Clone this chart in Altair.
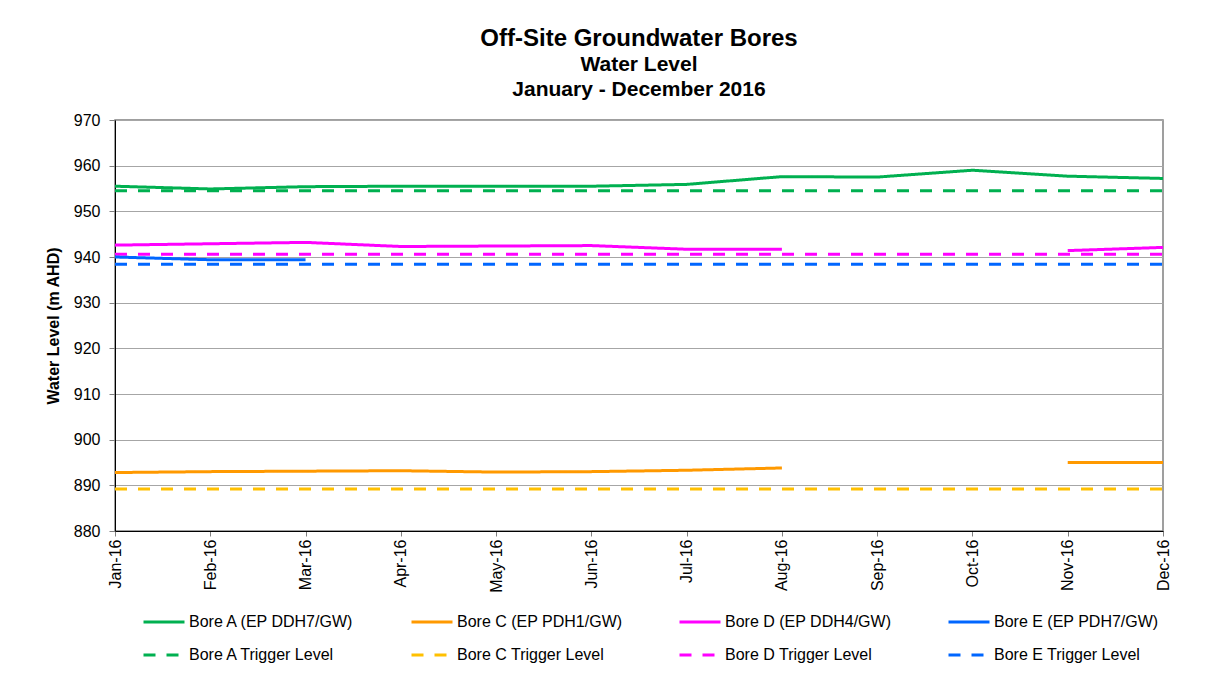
import altair as alt
import pandas as pd

months = ["Jan-16", "Feb-16", "Mar-16", "Apr-16", "May-16", "Jun-16",
          "Jul-16", "Aug-16", "Sep-16", "Oct-16", "Nov-16", "Dec-16"]

bore_a = [955.5, 954.9, 955.4, 955.5, 955.5, 955.5, 955.9, 957.6, 957.5, 959.0, 957.7, 957.2]
bore_c = [892.8, 893.0, 893.1, 893.2, 892.9, 893.0, 893.3, 893.8, None, None, 895.0, 895.0]
bore_d = [942.6, 942.9, 943.2, 942.3, 942.4, 942.5, 941.7, 941.7, None, None, 941.4, 942.1]
bore_e = [940.0, 939.4, 939.4, None, None, None, None, None, None, None, None, None]

trigger_a = [954.5] * 12
trigger_c = [889.2] * 12
trigger_d = [940.6] * 12
trigger_e = [938.4] * 12

# legend fills column by column (2 rows): bore, then its trigger level
series_names = [
    "Bore A (EP DDH7/GW)", "Bore A Trigger Level",
    "Bore C (EP PDH1/GW)", "Bore C Trigger Level",
    "Bore D (EP DDH4/GW)", "Bore D Trigger Level",
    "Bore E (EP PDH7/GW)", "Bore E Trigger Level",
]
series_values = [bore_a, trigger_a, bore_c, trigger_c, bore_d, trigger_d, bore_e, trigger_e]
series_colors = ["#00B050", "#00B050", "#FF9900", "#FFC000",
                 "#FF00FF", "#FF00FF", "#0066FF", "#0066FF"]
series_dash = [[1, 0], [12, 11]] * 4

y_ticks = [880, 890, 900, 910, 920, 930, 940, 950, 960, 970]

rows = []
for name, vals in zip(series_names, series_values):
    for m, v in zip(months, vals):
        rows.append({"month": m, "value": v, "series": name})
df = pd.DataFrame(rows)

FONT = "Liberation Sans"

chart = alt.Chart(df).mark_line(
    strokeWidth=3, invalid="break-paths-show-domains"
).encode(
    x=alt.X("month:O", sort=months,
            scale=alt.Scale(type="point", padding=0),
            axis=alt.Axis(title=None, labelAngle=270, labelAlign="right",
                          labelBaseline="middle", labelFontSize=16, labelPadding=3,
                          tickSize=5, tickColor="#808080", domainColor="#000000",
                          grid=False, labelColor="#000000")),
    y=alt.Y("value:Q",
            scale=alt.Scale(domain=[880, 970], nice=False, zero=False),
            axis=alt.Axis(values=y_ticks, title="Water Level (m AHD)",
                          titleFontSize=16, titleFontWeight="bold", titleColor="#000000",
                          titlePadding=12, labelFontSize=16, labelPadding=9,
                          tickSize=6, tickColor="#808080", domainColor="#000000",
                          gridColor="#A6A6A6", labelColor="#000000")),
    color=alt.Color("series:N",
                    scale=alt.Scale(domain=series_names, range=series_colors),
                    sort=series_names, legend=alt.Legend(title=None)),
    strokeDash=alt.StrokeDash("series:N",
                              scale=alt.Scale(domain=series_names, range=series_dash),
                              sort=series_names, legend=alt.Legend(title=None)),
).properties(
    width=1048,
    height=411,
    autosize=alt.AutoSizeParams(type="none"),
    padding={"left": 107, "top": 112, "right": 34, "bottom": 134},
    title=alt.Title(
        "Off-Site Groundwater Bores",
        subtitle=["Water Level", "January - December 2016"],
        fontSize=24, fontWeight="bold", color="#000000",
        subtitleFontSize=21, subtitleFontWeight="bold", subtitleColor="#000000",
        subtitleLineHeight=25, subtitlePadding=3,
        anchor="middle", frame="group", offset=12, font=FONT, subtitleFont=FONT,
    ),
).configure(
    font=FONT,
).configure_view(
    stroke="#808080", strokeWidth=1.5,
).configure_axis(
    labelFont=FONT, titleFont=FONT,
).configure_legend(
    orient="none", legendX=27, legendY=480, columns=4,
    columnPadding=50, rowPadding=3,
    symbolType="stroke", symbolSize=1681, symbolStrokeWidth=3,
    labelFontSize=16, labelFont=FONT, labelColor="#000000", labelOffset=3,
    labelLimit=400, padding=0,
)

chart.save("out.html", embed_options={"renderer": "svg", "actions": False})
